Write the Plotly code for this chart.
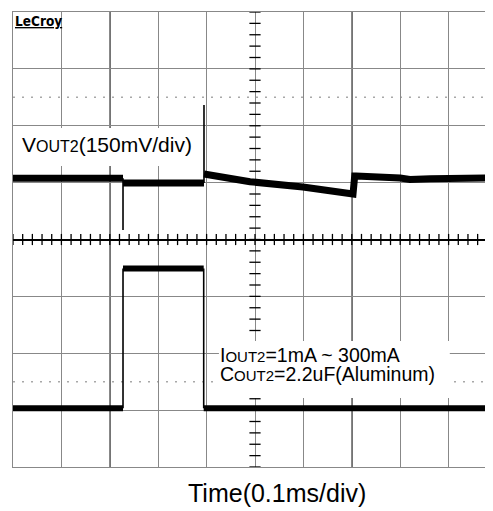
import numpy as np
import plotly.graph_objects as go

# Time axis in ms (0.1 ms/div); amplitudes in screen divisions
# VOUT2 trace (thick noisy band), None = break
vout_t = [0.0, 0.2273, None, 0.2273, 0.3946, None, 0.3946, 0.4897, 0.599, 0.7025, 0.7060, 0.7087, 0.80, 0.82, 0.862, 0.992]
vout_v = [1.076, 1.076, None, 0.993, 0.993, None, 1.151, 1.016, 0.923, 0.80, 1.116, 1.116, 1.081, 1.055, 1.068, 1.081]
# VOUT2 transient spikes (thin)
spike_t = [0.2273, 0.3946]
spike_from = [1.076, 0.993]
spike_to = [0.167, 2.364]

# IOUT2 load step
iout_t = [0.0, 0.2273, 0.394, 0.992]
iout_levels = [-2.967, -0.51, -2.967]

FONT = "Liberation Sans, Arial, sans-serif"
X_END = 480 / 484

fig = go.Figure()

# center graticule tick marks
xt = np.arange(0, 1.0, 0.02)
fig.add_trace(go.Scatter(x=xt, y=[0] * len(xt), mode="markers",
                         marker=dict(symbol="line-ns", size=8, line=dict(width=1.3, color="black")),
                         hoverinfo="skip", showlegend=False))
yt = np.arange(-4, 4.01, 0.2)
fig.add_trace(go.Scatter(x=[0.5] * len(yt), y=yt, mode="markers",
                         marker=dict(symbol="line-ew", size=8, line=dict(width=1.3, color="black")),
                         hoverinfo="skip", showlegend=False))

# thin edges / spikes
ex, ey = [], []
for t, a, b in zip(spike_t, spike_from, spike_to):
    ex += [t, t, None]
    ey += [a, b, None]
for i in range(1, len(iout_t) - 1):
    ex += [iout_t[i], iout_t[i], None]
    ey += [iout_levels[i - 1], iout_levels[i], None]
fig.add_trace(go.Scatter(x=ex, y=ey, mode="lines", line=dict(color="black", width=1.6),
                         hoverinfo="skip", showlegend=False))

# thick bands
fig.add_trace(go.Scatter(x=vout_t, y=vout_v, mode="lines", line=dict(color="black", width=7),
                         hoverinfo="skip", showlegend=False))
ix, iy = [], []
for i, lvl in enumerate(iout_levels):
    ix += [iout_t[i], iout_t[i + 1], None]
    iy += [lvl, lvl, None]
fig.add_trace(go.Scatter(x=ix, y=iy, mode="lines", line=dict(color="black", width=6),
                         hoverinfo="skip", showlegend=False))

shapes = []
for xv in [0.2, 0.7]:
    shapes.append(dict(type="line", xref="x", yref="paper", x0=xv, x1=xv, y0=0, y1=1,
                       line=dict(color="black", width=1.5), layer="between"))
for yv in [2.5, -2.5]:
    shapes.append(dict(type="line", xref="paper", yref="y", x0=0, x1=1, y0=yv, y1=yv,
                       line=dict(color="#a8a8a8", width=1.5, dash="2px,7px"), layer="between"))
# white label boxes
shapes.append(dict(type="rect", xref="paper", yref="paper", x0=0.004, x1=0.375, y0=0.6615, y1=0.745,
                   fillcolor="white", line=dict(width=0), layer="above"))
shapes.append(dict(type="rect", xref="paper", yref="paper", x0=0.429, x1=0.910, y0=0.1516, y1=0.277,
                   fillcolor="white", line=dict(width=0), layer="above"))

annotations = [
    dict(text="V<span style='font-size:16px'>OUT2</span>(150mV/div)", xref="paper", yref="paper",
         x=0.0146, y=0.7077, xanchor="left", yanchor="middle", showarrow=False,
         font=dict(family=FONT, size=21, color="black")),
    dict(text="I<span style='font-size:15px'>OUT2</span>=1mA ~ 300mA", xref="paper", yref="paper",
         x=0.427, y=0.2468, xanchor="left", yanchor="middle", showarrow=False,
         font=dict(family=FONT, size=19.5, color="black")),
    dict(text="C<span style='font-size:15px'>OUT2</span>=2.2uF(Aluminum)", xref="paper", yref="paper",
         x=0.427, y=0.205, xanchor="left", yanchor="middle", showarrow=False,
         font=dict(family=FONT, size=19.5, color="black")),
    dict(text="Time(0.1ms/div)", xref="paper", yref="paper",
         x=0.55, y=-0.0571, xanchor="center", yanchor="middle", showarrow=False,
         font=dict(family=FONT, size=25, color="black")),
    dict(text="<b><u>LeCroy</u></b>", xref="paper", yref="paper",
         x=0.0, y=0.981, xanchor="left", yanchor="middle", showarrow=False,
         font=dict(family="DejaVu Sans Condensed, DejaVu Sans", size=13.5, color="black")),
]

# the page body has an 8px margin, so the figure is sized/offset to land on the window
fig.update_layout(
    width=485, height=503,
    margin=dict(l=5, r=0, t=4, b=44, pad=0),
    paper_bgcolor="white", plot_bgcolor="white",
    showlegend=False,
    shapes=shapes, annotations=annotations,
    xaxis=dict(range=[0, X_END], tick0=0, dtick=0.1, showgrid=True, gridcolor="#888888", gridwidth=1.4,
               zeroline=False, showticklabels=False, ticks="", showline=True, mirror=True,
               linecolor="#888888", linewidth=1.4, fixedrange=True),
    yaxis=dict(range=[-4, 4], tick0=0, dtick=1, showgrid=True, gridcolor="#888888", gridwidth=1.4,
               zeroline=True, zerolinecolor="black", zerolinewidth=1.6, showticklabels=False, ticks="",
               showline=True, linecolor="#888888", linewidth=1.4, fixedrange=True),
)

fig.write_html("out.html", config={"displayModeBar": False})
